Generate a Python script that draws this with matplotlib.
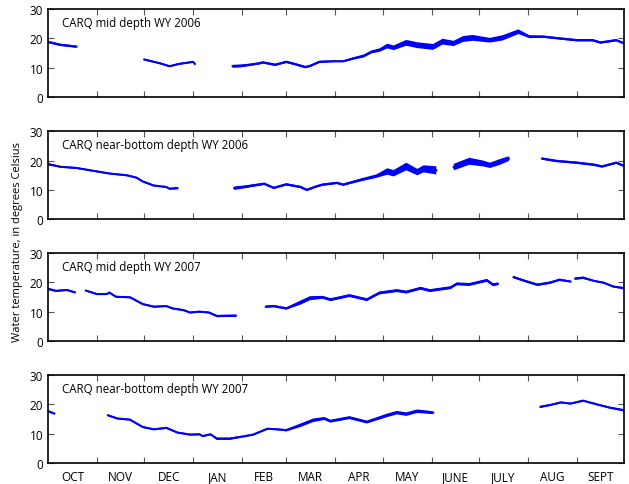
import numpy as np
import matplotlib
matplotlib.use("Agg")
import matplotlib.pyplot as plt

nan = np.nan

# day of water year (0 = Oct 1), temperature, half-range of daily swing
mid06_day = [0, 8, 18, nan, 61, 71, 77, 83, 92, 93, nan,
             117, 122, 128, 134, 136, 144, 151, 158, 163, 166, 172, 181, 187, 193, 200, 205, 210,
             215, 219, 227, 234, 244, 250, 257, 263, 269, 280, 288, 298, 305, 314, 324, 335, 345,
             350, 360, 365]
mid06_t = [18.8, 17.8, 17.2, nan, 12.8, 11.5, 10.5, 11.3, 12.0, 11.3, nan,
           10.5, 10.6, 11.0, 11.5, 11.8, 11.0, 12.0, 11.0, 10.2, 10.6, 12.0, 12.2, 12.2, 13.1, 14.0,
           15.4, 16.0, 17.4, 16.8, 18.5, 17.7, 17.1, 18.9, 18.3, 19.8, 20.2, 19.4, 20.2, 22.3, 20.6,
           20.6, 20.0, 19.4, 19.4, 18.6, 19.4, 18.3]
mid06_r = [0.4, 0.4, 0.4, nan, 0.3, 0.3, 0.3, 0.3, 0.3, 0.3, nan,
           0.5, 0.5, 0.4, 0.4, 0.4, 0.4, 0.4, 0.4, 0.4, 0.4, 0.4, 0.3, 0.3, 0.4, 0.5, 0.5, 0.6,
           0.8, 0.8, 1.0, 1.0, 1.0, 1.0, 0.9, 1.0, 1.0, 0.8, 0.9, 0.8, 0.5, 0.4, 0.4, 0.4, 0.4,
           0.4, 0.4, 0.4]

bot06_day = [0, 8, 18, 29, 39, 50, 56, 60, 67, 75, 77, 82, nan,
             118, 124, 137, 143, 151, 160, 164, 170, 174, 183, 187, 198, 208, 215, 219, 227, 234,
             238, 246, nan, 257, 267, 276, 280, 286, 292, nan,
             313, 322, 335, 346, 351, 360, 365]
bot06_t = [18.8, 17.9, 17.5, 16.5, 15.6, 15.0, 14.2, 12.9, 11.5, 11.0, 10.4, 10.6, nan,
           10.6, 11.0, 12.1, 10.7, 11.9, 11.0, 10.0, 11.2, 11.8, 12.4, 11.8, 13.4, 14.7, 16.3,
           15.7, 18.0, 16.1, 17.2, 16.7, nan, 17.8, 19.8, 19.0, 18.4, 19.5, 20.7, nan,
           20.7, 19.9, 19.3, 18.6, 18.0, 19.3, 18.2]
bot06_r = [0.4, 0.3, 0.3, 0.3, 0.3, 0.3, 0.3, 0.3, 0.3, 0.3, 0.3, 0.4, nan,
           0.6, 0.5, 0.4, 0.4, 0.4, 0.4, 0.4, 0.4, 0.4, 0.4, 0.4, 0.5, 0.6, 1.1, 1.1, 1.3, 1.1,
           1.2, 1.4, nan, 1.1, 1.2, 1.0, 0.9, 1.0, 0.8, nan,
           0.4, 0.4, 0.4, 0.4, 0.4, 0.4, 0.4]

mid07_day = [0, 5, 12, 17, nan, 24, 31, 37, 39, 43, 52, 60, 67, 75, 79, 86, 90, 96, 102, 107,
             117, 119, nan, 138, 143, 151, 160, 166, 174, 179, 191, 202, 210, 221, 227, 236, 242,
             255, 259, 267, 278, 282, 285, nan, 295, 301, 310, 318, 324, 331, nan,
             334, 339, 346, 352, 358, 365]
mid07_t = [17.8, 17.1, 17.4, 16.6, nan, 17.2, 16.0, 16.0, 16.5, 15.1, 14.9, 12.6, 11.7, 11.9,
           11.1, 10.5, 9.7, 10.0, 9.7, 8.5, 8.6, 8.6, nan, 11.7, 11.9, 11.1, 13.1, 14.6, 14.9,
           14.1, 15.5, 14.1, 16.4, 17.2, 16.7, 18.0, 17.2, 18.2, 19.5, 19.3, 20.7, 19.2, 19.5,
           nan, 21.8, 20.7, 19.2, 19.9, 20.9, 20.3, nan, 21.3, 21.6, 20.5, 19.9, 18.6, 18.0]
mid07_r = [0.4, 0.3, 0.3, 0.3, nan, 0.3, 0.3, 0.3, 0.3, 0.3, 0.3, 0.3, 0.3, 0.3, 0.3, 0.3,
           0.3, 0.3, 0.3, 0.4, 0.4, 0.4, nan, 0.4, 0.4, 0.4, 0.7, 0.7, 0.5, 0.5, 0.5, 0.5, 0.5,
           0.5, 0.5, 0.5, 0.5, 0.5, 0.5, 0.5, 0.5, 0.5, 0.5, nan, 0.4, 0.4, 0.4, 0.4, 0.4, 0.3,
           nan, 0.4, 0.4, 0.3, 0.3, 0.3, 0.4]

bot07_day = [0, 4, nan, 38, 44, 52, 60, 67, 75, 82, 90, 96, 98, 103, 107, 115, 124, 130, 139,
             145, 151, 160, 168, 175, 179, 191, 202, 215, 221, 227, 234, 244, nan,
             312, 318, 325, 331, 339, 348, 356, 365]
bot07_t = [17.7, 16.9, nan, 16.3, 15.2, 14.8, 12.3, 11.5, 12.0, 10.4, 9.7, 9.8, 9.2, 9.8, 8.3,
           8.3, 9.1, 9.7, 11.7, 11.5, 11.2, 12.9, 14.6, 15.2, 14.3, 15.5, 14.0, 16.3, 17.2, 16.7,
           17.7, 17.2, nan, 19.2, 19.8, 20.7, 20.3, 21.3, 20.0, 18.9, 18.0]
bot07_r = [0.4, 0.3, nan, 0.3, 0.3, 0.3, 0.3, 0.3, 0.3, 0.3, 0.3, 0.3, 0.3, 0.3, 0.4, 0.4,
           0.3, 0.3, 0.3, 0.3, 0.4, 0.6, 0.6, 0.5, 0.5, 0.5, 0.5, 0.6, 0.6, 0.6, 0.6, 0.5, nan,
           0.4, 0.3, 0.3, 0.3, 0.3, 0.3, 0.3, 0.4]

titles = ["CARQ mid depth WY 2006", "CARQ near-bottom depth WY 2006",
          "CARQ mid depth WY 2007", "CARQ near-bottom depth WY 2007"]
series = [(mid06_day, mid06_t, mid06_r), (bot06_day, bot06_t, bot06_r),
          (mid07_day, mid07_t, mid07_r), (bot07_day, bot07_t, bot07_r)]

month_starts = [0, 31, 61, 92, 123, 151, 182, 212, 243, 273, 304, 335, 365]
month_names = ["OCT", "NOV", "DEC", "JAN", "FEB", "MAR", "APR", "MAY", "JUNE", "JULY", "AUG", "SEPT"]

plt.rcParams['font.family'] = ['Open Sans', 'DejaVu Sans']

fig = plt.figure(figsize=(6.29, 4.85), dpi=100)
bottoms = [0.798, 0.546, 0.295, 0.0433]

for i, (title, (d, t, r)) in enumerate(zip(titles, series)):
    ax = fig.add_axes([0.0763, bottoms[i], 0.916, 0.181])
    d = np.array(d, float)
    t = np.array(t, float)
    r = np.array(r, float)
    ax.fill_between(d, t - r, t + r, color='#0000ff', lw=0)
    ax.plot(d, t, color='#0000ff', lw=1.5)

    ax.set_xlim(0, 365)
    ax.set_ylim(0, 30)
    ax.set_yticks([0, 10, 20, 30])
    ax.set_xticks(month_starts[1:-1])
    ax.set_xticklabels([])
    ax.set_xticks([(a + b) / 2 for a, b in zip(month_starts[:-1], month_starts[1:])], minor=True)
    if i == 3:
        ax.set_xticklabels(month_names, minor=True)
    ax.tick_params(which='major', direction='in', length=4, color='#555555',
                   top=True, right=True, labelsize=8.5)
    ax.tick_params(which='minor', length=0, labelsize=8.5, pad=5)
    for s in ax.spines.values():
        s.set_linewidth(1.2)
    ax.text(0.024, 25.5, title, fontsize=8.3, va='center', ha='left',
            transform=ax.get_yaxis_transform())

fig.text(0.028, 0.5, "Water temperature, in degrees Celsius", rotation=90,
         va='center', ha='center', fontsize=8)

fig.savefig("out.png", dpi=100)
